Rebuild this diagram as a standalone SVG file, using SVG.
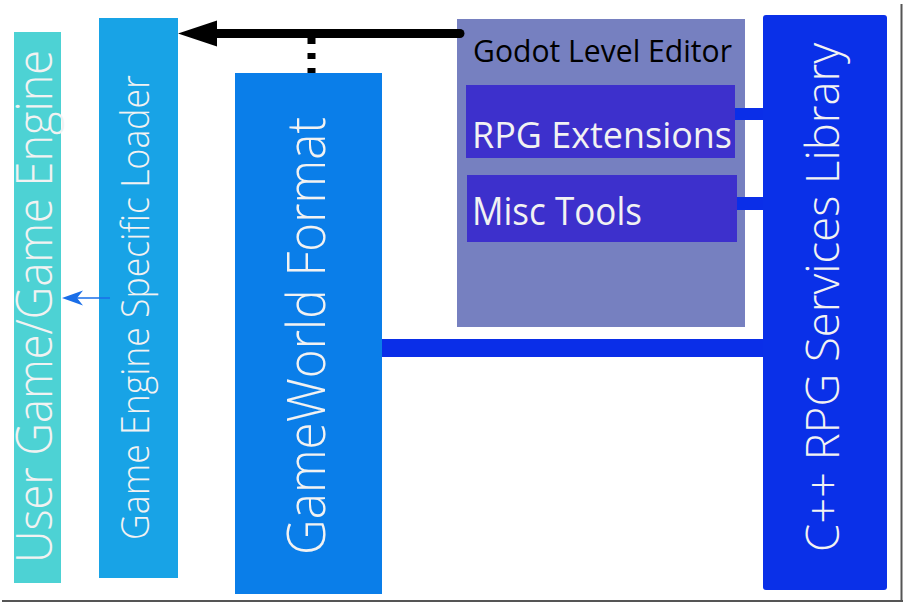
<svg xmlns="http://www.w3.org/2000/svg" width="904" height="604" viewBox="0 0 904 604">
<style>
.lbl{font-family:"Open Sans","Noto Sans","Liberation Sans",sans-serif;fill:#f2f2f2;}
.thin{font-weight:300;}
.dark{font-family:"Open Sans","Noto Sans","Liberation Sans",sans-serif;fill:#000;}
.bar{fill:#0a2ee8;}
</style>
<rect x="0" y="0" width="904" height="604" fill="#fff"/>
<g id="frame">
<line x1="901.5" y1="4" x2="901.5" y2="602" stroke="#555" stroke-width="2"/>
<line x1="2" y1="601" x2="903" y2="601" stroke="#555" stroke-width="2"/>
</g>
<g id="user-game">
<rect x="14" y="32" width="47" height="551" fill="#4dd2d4"/>
<text class="lbl thin" transform="translate(52,306.5) rotate(-90)" text-anchor="middle" font-size="49" textLength="513" lengthAdjust="spacingAndGlyphs">User Game/Game Engine</text>
</g>
<g id="loader">
<rect x="99" y="18" width="79" height="560" fill="#18a3e6"/>
<text class="lbl thin" transform="translate(149,307.5) rotate(-90)" text-anchor="middle" font-size="38" textLength="465" lengthAdjust="spacingAndGlyphs">Game Engine Specific Loader</text>
</g>
<g id="gameworld">
<rect x="235" y="73" width="147" height="521" fill="#0a7ee9"/>
<text class="lbl thin" transform="translate(325,336) rotate(-90)" text-anchor="middle" font-size="54" textLength="438" lengthAdjust="spacingAndGlyphs">GameWorld Format</text>
</g>
<g id="godot">
<rect x="457" y="19" width="288" height="308" fill="#7680c0"/>
<text class="dark" x="473" y="62" font-size="31" textLength="259" lengthAdjust="spacingAndGlyphs">Godot Level Editor</text>
</g>
<g id="rpg-ext">
<rect x="466" y="85" width="269" height="73" fill="#3d30cc"/>
<text class="lbl" x="472" y="148" font-size="37" textLength="260" lengthAdjust="spacingAndGlyphs">RPG Extensions</text>
</g>
<g id="misc">
<rect x="467" y="175" width="270" height="67" fill="#3d30cc"/>
<text class="lbl" x="472" y="225" font-size="38" textLength="170" lengthAdjust="spacingAndGlyphs">Misc Tools</text>
</g>
<g id="services">
<rect x="763" y="15" width="124" height="575" rx="3" fill="#0a30e8"/>
<text class="lbl thin" transform="translate(839,297.5) rotate(-90)" text-anchor="middle" font-size="46" textLength="509" lengthAdjust="spacingAndGlyphs">C++ RPG Services Library</text>
</g>
<g id="connectors">
<line x1="460" y1="33.5" x2="217" y2="33.5" stroke="#000" stroke-width="9" stroke-linecap="round"/>
<path d="M178,33.5 L217,20.5 L217,46.5 Z" fill="#000"/>
<line x1="311.5" y1="38" x2="311.5" y2="73" stroke="#000" stroke-width="8" stroke-dasharray="6 9"/>
<line x1="110" y1="298" x2="75" y2="298" stroke="#1a6ee8" stroke-width="1.5"/>
<path d="M62,298 L83,290.5 L77,298 L83,305.5 Z" fill="#1a6ee8"/>
<rect class="bar" x="735" y="108" width="28" height="12"/>
<rect class="bar" x="737" y="197" width="26" height="13"/>
<rect class="bar" x="382" y="339" width="381" height="18"/>
</g>
</svg>
